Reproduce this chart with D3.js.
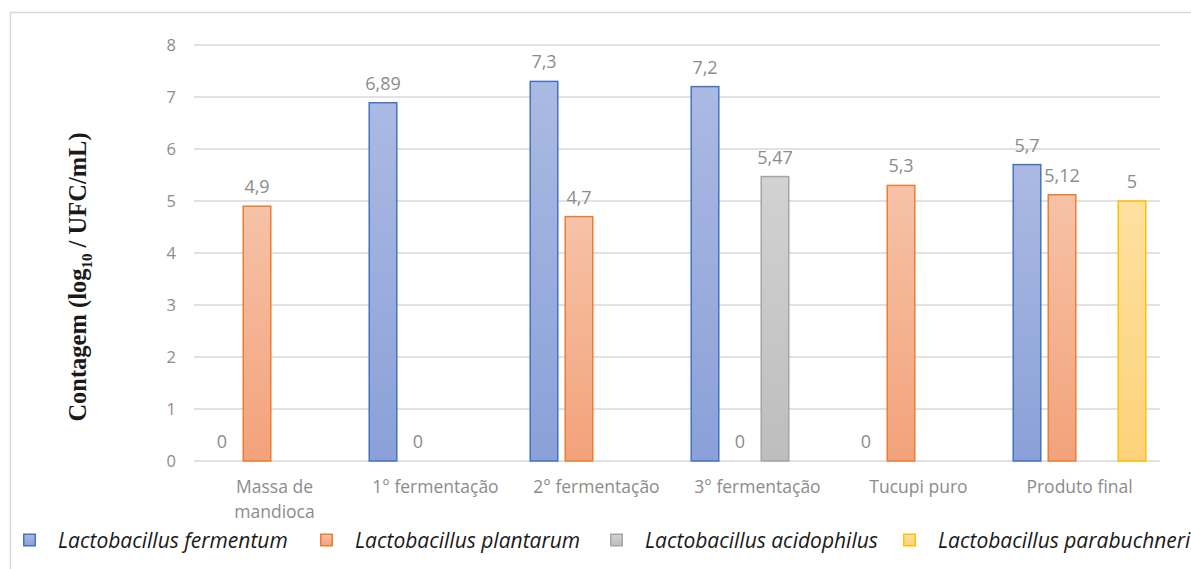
<!DOCTYPE html>
<html><head><meta charset="utf-8">
<script src="https://cdn.jsdelivr.net/npm/d3@7"></script>
<style>body{margin:0;background:#fff}svg{display:block}</style>
</head><body>
<script>
const categories = [["Massa de","mandioca"],["1° fermentação"],["2° fermentação"],["3° fermentação"],["Tucupi puro"],["Produto final"]];
const seriesNames = ["Lactobacillus fermentum","Lactobacillus plantarum","Lactobacillus acidophilus","Lactobacillus parabuchneri"];
const fermentum   = [0, 6.89, 7.3, 7.2, 0, 5.7];
const plantarum   = [4.9, 0, 4.7, 0, 5.3, 5.12];
const acidophilus = [null, null, null, 5.47, null, null];
const parabuchneri= [null, null, null, null, null, 5];
const yTicks = [0,1,2,3,4,5,6,7,8];
const seriesValues = [fermentum, plantarum, acidophilus, parabuchneri];

const colors = [
  {stroke:"#4472C4", top:"#abbae3", bot:"#8aa0d8"},
  {stroke:"#ED7D31", top:"#f6c2a7", bot:"#f3a27a"},
  {stroke:"#A5A5A5", top:"#d2d2d2", bot:"#bdbdbd"},
  {stroke:"#FFC000", top:"#fee0a0", bot:"#fdd27a"}
];

const W=1191,H=569;
const svg=d3.select("body").append("svg").attr("width",W).attr("height",H);
const defs=svg.append("defs");
colors.forEach((c,i)=>{
  const g=defs.append("linearGradient").attr("id","g"+i).attr("x1",0).attr("y1",0).attr("x2",0).attr("y2",1);
  g.append("stop").attr("offset","0%").attr("stop-color",c.top);
  g.append("stop").attr("offset","100%").attr("stop-color",c.bot);
});

// frame
svg.append("path").attr("d","M10.5,"+H+" V12.5 H"+W).attr("fill","none").attr("stroke","#d9d9d9").attr("stroke-width",1.5);

const L=194,R=1160,T=45,B=461;
const x0=d3.scaleBand().domain(d3.range(categories.length)).range([L,R]);
const x1=d3.scaleBand().domain(d3.range(seriesNames.length)).range([0,x0.bandwidth()]).paddingInner(0.17).paddingOuter(0.385);
const y=d3.scaleLinear().domain([0,8]).range([B,T]);

const grid=svg.append("g");
grid.selectAll("line").data(yTicks).join("line")
  .attr("x1",L).attr("x2",R).attr("y1",d=>y(d)).attr("y2",d=>y(d))
  .attr("stroke","#d9d9d9").attr("stroke-width",1.5);

const yAxis=svg.append("g").attr("transform",`translate(${L},0)`)
  .call(d3.axisLeft(y).tickValues(yTicks).tickSize(0).tickPadding(18).tickFormat(d3.format("d")));
yAxis.select(".domain").remove();
yAxis.selectAll("text").attr("font-family","'Open Sans',sans-serif").attr("font-size",16.5).attr("fill","#8c8c8c");

const xAxis=svg.append("g").attr("transform",`translate(0,${B})`)
  .call(d3.axisBottom(x0).tickSize(0).tickFormat(""));
xAxis.select(".domain").remove();
xAxis.selectAll(".tick").each(function(d){
  const t=d3.select(this).append("text").attr("text-anchor","middle").attr("fill","#8c8c8c")
    .attr("font-family","'Open Sans',sans-serif").attr("font-size",17.5);
  categories[d].forEach((line,i)=>t.append("tspan").attr("x",0).attr("y",32+i*25).text(line));
});

const fmt=v=>String(v).replace(".",",");
seriesValues.forEach((vals,si)=>{
  const g=svg.append("g");
  const data=vals.map((v,ci)=>({v,ci})).filter(d=>d.v!==null);
  g.selectAll("rect").data(data.filter(d=>d.v>0)).join("rect")
    .attr("x",d=>x0(d.ci)+x1(si)+0.75).attr("width",x1.bandwidth()-1.5)
    .attr("y",d=>y(d.v)).attr("height",d=>B-y(d.v))
    .attr("fill",`url(#g${si})`).attr("stroke",colors[si].stroke).attr("stroke-width",1.5);
  g.selectAll("text").data(data).join("text")
    .attr("x",d=>x0(d.ci)+x1(si)+x1.bandwidth()/2).attr("y",d=>y(d.v)-13)
    .attr("text-anchor","middle").attr("font-family","'Open Sans',sans-serif").attr("font-size",18).attr("fill","#8c8c8c")
    .text(d=>fmt(d.v));
});

// y title
const yt=svg.append("text").attr("transform","translate(86,277) rotate(-90)").attr("text-anchor","middle")
  .attr("font-family","'Liberation Serif',serif").attr("font-size",24.5).attr("font-weight","bold").attr("fill","#1a1a1a");
yt.append("tspan").text("Contagem (log");
yt.append("tspan").attr("font-size",15).attr("dy",6).text("10");
yt.append("tspan").attr("dy",-6).text(" / UFC/mL)");

// legend
const legX=[23,320,610,903];
const leg=svg.append("g");
seriesNames.forEach((n,i)=>{
  leg.append("rect").attr("x",legX[i]+0.75).attr("y",534.25).attr("width",11.5).attr("height",11.5)
    .attr("fill",`url(#g${i})`).attr("stroke",colors[i].stroke).attr("stroke-width",1.5);
  leg.append("text").attr("x",legX[i]+35).attr("y",548).attr("font-family","'Open Sans',sans-serif")
    .attr("font-style","italic").attr("font-size",21).attr("fill","#1a1a1a").text(n);
});
</script>
</body></html>
